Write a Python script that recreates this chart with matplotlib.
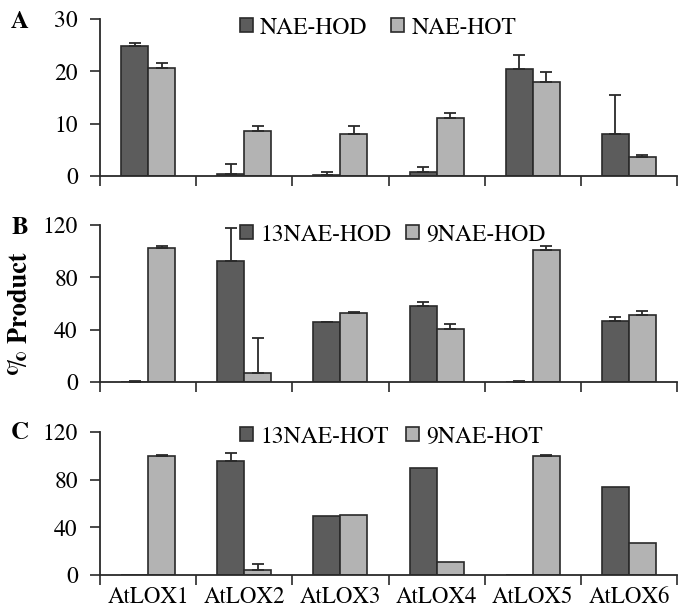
import numpy as np
import matplotlib
matplotlib.use("Agg")
import matplotlib.pyplot as plt
import matplotlib.patches as mpatches

plt.rcParams['font.family'] = ['TeX Gyre Termes', 'Liberation Serif', 'DejaVu Serif']

lox = ["AtLOX1", "AtLOX2", "AtLOX3", "AtLOX4", "AtLOX5", "AtLOX6"]

# panel A: % of NAE converted
a_hod = [24.9, 0.3, 0.1, 0.7, 20.5, 8.1]
a_hod_err = [0.5, 1.9, 0.6, 1.0, 2.7, 7.4]
a_hot = [20.7, 8.6, 8.1, 11.1, 18.0, 3.7]
a_hot_err = [0.8, 1.0, 1.5, 0.9, 1.8, 0.25]

# panel B: regiospecificity with NAE-HOD
b_13 = [0.3, 92.5, 45.6, 58.3, 0.3, 46.6]
b_13_err = [0.3, 25.5, 0.4, 3.1, 0.3, 3.4]
b_9 = [102.2, 7.1, 52.5, 40.8, 101.0, 51.5]
b_9_err = [1.8, 26.8, 1.0, 3.8, 3.0, 3.0]

# panel C: regiospecificity with NAE-HOT
c_13 = [0.0, 96.0, 49.8, 90.0, 0.0, 73.5]
c_13_err = [0, 6.5, 0, 0, 0, 0]
c_9 = [100.0, 4.2, 50.5, 10.5, 100.0, 27.0]
c_9_err = [0.3, 5.3, 0, 0, 0.3, 0]

panels = [
    ("A", a_hod, a_hod_err, a_hot, a_hot_err, ["NAE-HOD", "NAE-HOT"], 30, [0, 10, 20, 30]),
    ("B", b_13, b_13_err, b_9, b_9_err, ["13NAE-HOD", "9NAE-HOD"], 120, [0, 40, 80, 120]),
    ("C", c_13, c_13_err, c_9, c_9_err, ["13NAE-HOT", "9NAE-HOT"], 120, [0, 40, 80, 120]),
]

W, H = 678, 614
fig = plt.figure(figsize=(W / 100, H / 100), dpi=100)

# axes boxes in pixels: (top, bottom)
boxes = [(19, 176), (225, 382), (432, 575)]
leg_y = [28, 235, 437]
colsp = [1.0, 0.62, 0.75]
left_px, right_px = 100, 677

dark = "#5c5c5c"
light = "#b3b3b3"
edge = "#2a2a2a"
bw = 0.28
x = np.arange(len(lox)) + 0.5

for i, (lab, s1, e1, s2, e2, names, ymax, yt) in enumerate(panels):
    top, bot = boxes[i]
    ax = fig.add_axes([left_px / W, 1 - bot / H, (right_px - left_px) / W, (bot - top) / H])
    ax.bar(x - bw / 2, s1, bw, color=dark, edgecolor=edge, linewidth=1.2, zorder=2)
    ax.bar(x + bw / 2, s2, bw, color=light, edgecolor=edge, linewidth=1.2, zorder=2)
    for xs, v, e in [(x - bw / 2, s1, e1), (x + bw / 2, s2, e2)]:
        v = np.array(v)
        e = np.array(e, dtype=float)
        m = e > 0
        ax.errorbar(xs[m], v[m], yerr=[np.zeros(m.sum()), e[m]], fmt="none",
                    ecolor=edge, elinewidth=1.3, capsize=4, capthick=1.3, zorder=3)
    ax.set_xlim(0, 6)
    ax.set_ylim(0, ymax)
    ax.set_yticks(yt)
    ax.set_xticks(range(7))
    ax.set_xticklabels([])
    ax.set_xticks(x, minor=True)
    if i == 2:
        ax.set_xticklabels(lox, minor=True, fontsize=16.5)
    ax.tick_params(axis="x", which="minor", length=0, pad=8)
    ax.tick_params(axis="x", which="major", length=7, width=1.2, color=edge)
    ax.tick_params(axis="y", length=7, width=1.2, color=edge, labelsize=17, pad=9)
    for s in ["top", "right"]:
        ax.spines[s].set_visible(False)
    for s in ["left", "bottom"]:
        ax.spines[s].set_linewidth(1.3)
        ax.spines[s].set_color(edge)
    ax.spines["bottom"].set_clip_on(False)

    handles = [mpatches.Patch(facecolor=dark, edgecolor=edge, linewidth=1.2),
               mpatches.Patch(facecolor=light, edgecolor=edge, linewidth=1.2)]
    ax.legend(handles, names, loc="center left", ncol=2, frameon=False,
              bbox_to_anchor=(240 / W, 1 - leg_y[i] / H), bbox_transform=fig.transFigure,
              fontsize=17, borderpad=0, borderaxespad=0, handlelength=0.55,
              handleheight=0.55, handletextpad=0.3, columnspacing=colsp[i])

    fig.text(20 / W, 1 - (22 + [0, 206, 411][i]) / H, lab, fontsize=18, fontweight="bold",
             ha="center", va="center")

fig.text(21 / W, 1 - 314 / H, "% Product", rotation=90, fontsize=19, fontweight="bold",
         ha="center", va="center")

fig.savefig("out.png", dpi=100)
